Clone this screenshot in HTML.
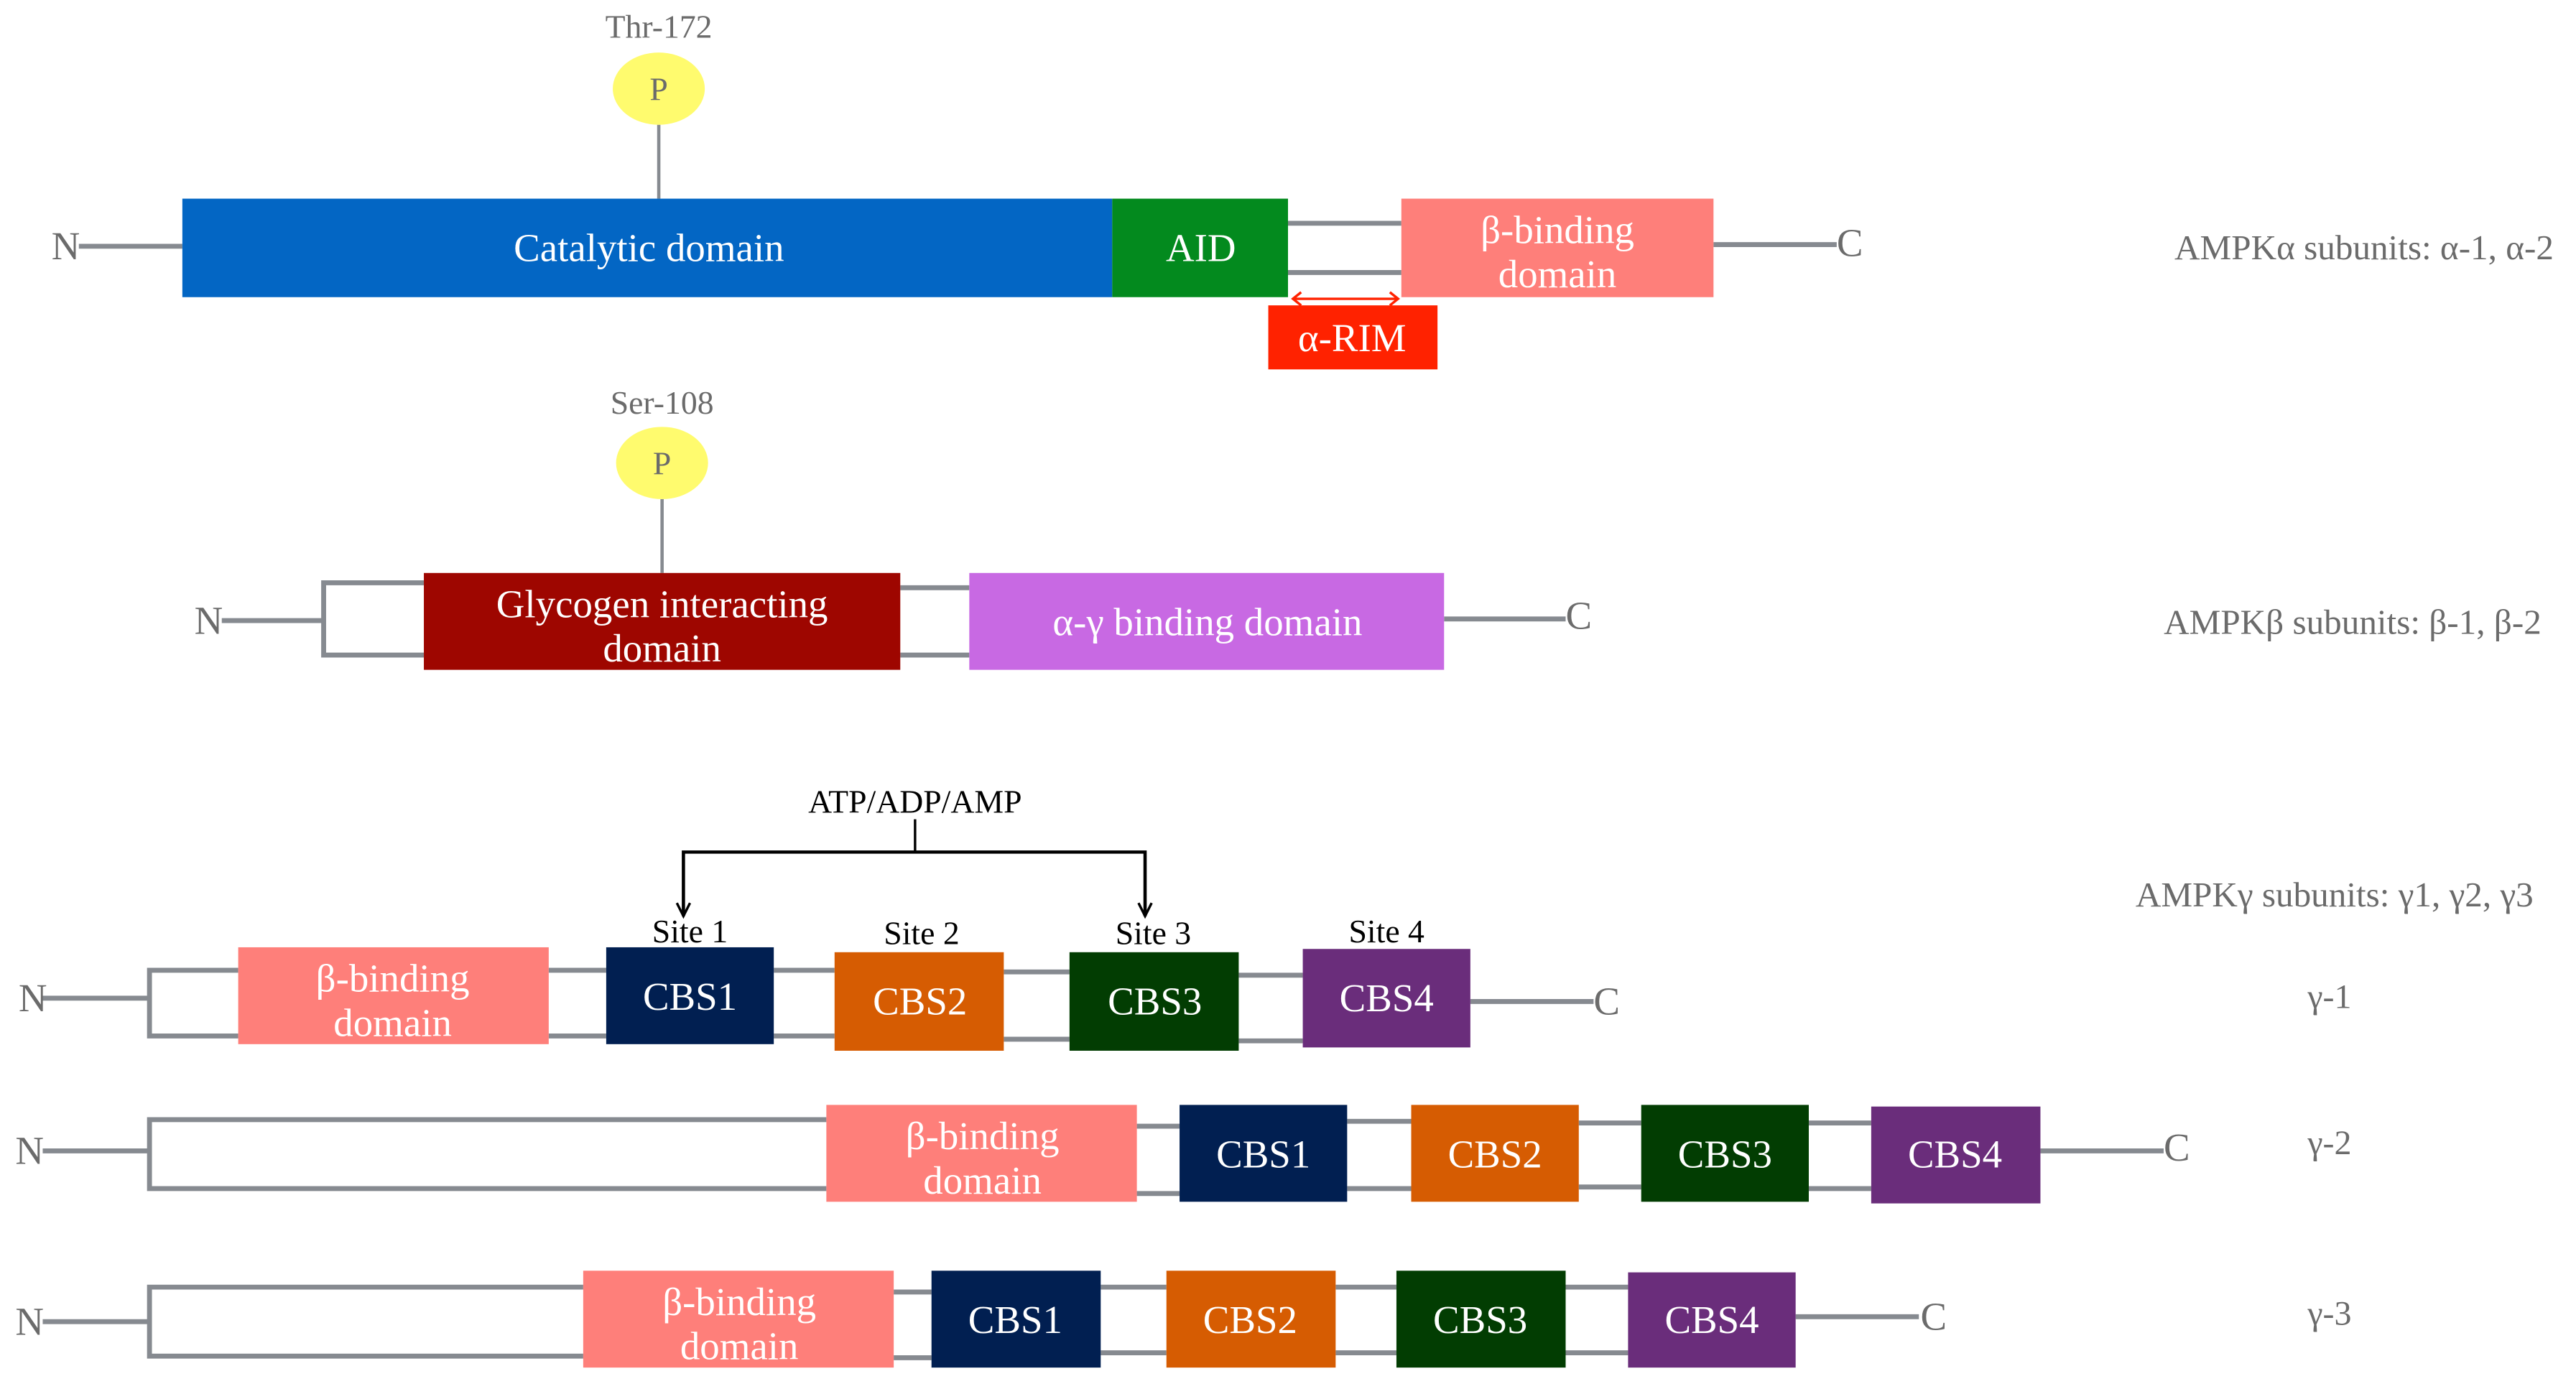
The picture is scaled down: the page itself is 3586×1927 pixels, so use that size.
<!DOCTYPE html>
<html><head><meta charset="utf-8"><style>html,body{margin:0;padding:0;background:#fff}svg{display:block}</style></head>
<body>
<svg width="3586" height="1927" viewBox="0 0 1568 843" preserveAspectRatio="none" xmlns="http://www.w3.org/2000/svg" font-family="Liberation Serif, serif">
<g stroke="#868A90" stroke-width="3" fill="none">
<line x1="48" y1="150" x2="111" y2="150"/>
<line x1="784" y1="136" x2="853" y2="136"/>
<line x1="784" y1="166" x2="853" y2="166"/>
<line x1="1043" y1="149" x2="1118" y2="149"/>
<line x1="401" y1="76" x2="401" y2="121" stroke-width="2"/>
<line x1="135" y1="378" x2="197" y2="378"/>
<polyline points="258,355 197,355 197,399 258,399"/>
<line x1="548" y1="358" x2="590" y2="358"/>
<line x1="548" y1="399" x2="590" y2="399"/>
<line x1="879" y1="377" x2="953" y2="377"/>
<line x1="403" y1="304" x2="403" y2="349" stroke-width="2"/>
<line x1="26" y1="608" x2="91" y2="608"/>
<polyline points="145,591 91,591 91,631 145,631"/>
<line x1="334" y1="591" x2="369" y2="591"/><line x1="334" y1="631" x2="369" y2="631"/>
<line x1="471" y1="591" x2="508" y2="591"/><line x1="471" y1="631" x2="508" y2="631"/>
<line x1="611" y1="592" x2="651" y2="592"/><line x1="611" y1="633" x2="651" y2="633"/>
<line x1="754" y1="594" x2="793" y2="594"/><line x1="754" y1="634" x2="793" y2="634"/>
<line x1="895" y1="610" x2="970" y2="610"/>
<line x1="26" y1="701" x2="91" y2="701"/>
<polyline points="503,682 91,682 91,724 503,724"/>
<line x1="692" y1="686" x2="718" y2="686"/><line x1="692" y1="727" x2="718" y2="727"/>
<line x1="820" y1="683" x2="859" y2="683"/><line x1="820" y1="724" x2="859" y2="724"/>
<line x1="961" y1="684" x2="999" y2="684"/><line x1="961" y1="723" x2="999" y2="723"/>
<line x1="1101" y1="684" x2="1139" y2="684"/><line x1="1101" y1="724" x2="1139" y2="724"/>
<line x1="1242" y1="701" x2="1317" y2="701"/>
<line x1="26" y1="805" x2="91" y2="805"/>
<polyline points="355,784 91,784 91,826 355,826"/>
<line x1="544" y1="787" x2="567" y2="787"/><line x1="544" y1="827" x2="567" y2="827"/>
<line x1="670" y1="784" x2="710" y2="784"/><line x1="670" y1="824" x2="710" y2="824"/>
<line x1="813" y1="784" x2="850" y2="784"/><line x1="813" y1="824" x2="850" y2="824"/>
<line x1="953" y1="784" x2="991" y2="784"/><line x1="953" y1="824" x2="991" y2="824"/>
<line x1="1093" y1="802" x2="1168" y2="802"/>
</g>
<rect x="111" y="121" width="566" height="60" fill="#0366C4"/>
<rect x="677" y="121" width="107" height="60" fill="#038A1E"/>
<rect x="853" y="121" width="190" height="60" fill="#FE7F7A"/>
<rect x="772" y="186" width="103" height="39" fill="#FF2200"/>
<line x1="788" y1="182" x2="850" y2="182" stroke="#FF2200" stroke-width="1.5"/>
<path d="M792,178 L787,182 L792,186 M846,178 L851,182 L846,186" stroke="#FF2200" stroke-width="1.5" fill="none"/>
<ellipse cx="401" cy="54" rx="28" ry="22" fill="#FFFB6E"/>
<ellipse cx="403" cy="282" rx="28" ry="22" fill="#FFFB6E"/>
<rect x="258" y="349" width="290" height="59" fill="#9E0600"/>
<rect x="590" y="349" width="289" height="59" fill="#C869E3"/>
<rect x="145" y="577" width="189" height="59" fill="#FE7F7A"/>
<rect x="369" y="577" width="102" height="59" fill="#011F51"/>
<rect x="508" y="580" width="103" height="60" fill="#D65C02"/>
<rect x="651" y="580" width="103" height="60" fill="#023D02"/>
<rect x="793" y="578" width="102" height="60" fill="#6A2D7B"/>
<rect x="503" y="673" width="189" height="59" fill="#FE7F7A"/>
<rect x="718" y="673" width="102" height="59" fill="#011F51"/>
<rect x="859" y="673" width="102" height="59" fill="#D65C02"/>
<rect x="999" y="673" width="102" height="59" fill="#023D02"/>
<rect x="1139" y="674" width="103" height="59" fill="#6A2D7B"/>
<rect x="355" y="774" width="189" height="59" fill="#FE7F7A"/>
<rect x="567" y="774" width="103" height="59" fill="#011F51"/>
<rect x="710" y="774" width="103" height="59" fill="#D65C02"/>
<rect x="850" y="774" width="103" height="59" fill="#023D02"/>
<rect x="991" y="775" width="102" height="58" fill="#6A2D7B"/>
<g stroke="#000" fill="none">
<line x1="557" y1="499" x2="557" y2="519" stroke-width="1.5"/>
<polyline points="416,558 416,519 697,519 697,558" stroke-width="2"/>
<path d="M412,550 L416,558 L420,550 M693,550 L697,558 L701,550" stroke-width="1.5"/>
</g>
<g fill="#6b6b6b" font-size="20" text-anchor="middle">
<text x="401" y="23">Thr-172</text>
<text x="401" y="61">P</text>
<text x="403" y="252">Ser-108</text>
<text x="403" y="289">P</text>
<text x="40" y="158" font-size="24">N</text>
<text x="1126" y="156" font-size="24">C</text>
<text x="127" y="386" font-size="24">N</text>
<text x="961" y="383" font-size="24">C</text>
<text x="20" y="616" font-size="24">N</text>
<text x="978" y="618" font-size="24">C</text>
<text x="18" y="709" font-size="24">N</text>
<text x="1325" y="707" font-size="24">C</text>
<text x="18" y="813" font-size="24">N</text>
<text x="1177" y="810" font-size="24">C</text>
<text x="1439" y="158" font-size="21.5">AMPKα subunits: α-1, α-2</text>
<text x="1432" y="386" font-size="21.5">AMPKβ subunits: β-1, β-2</text>
<text x="1421" y="552" font-size="21.5">AMPKγ subunits: γ1, γ2, γ3</text>
<text x="1418" y="614" font-size="21">γ-1</text>
<text x="1418" y="703" font-size="21">γ-2</text>
<text x="1418" y="807" font-size="21">γ-3</text>
</g>
<g fill="#000" font-size="20" text-anchor="middle">
<text x="557" y="495">ATP/ADP/AMP</text>
<text x="420" y="574">Site 1</text>
<text x="561" y="575">Site 2</text>
<text x="702" y="575">Site 3</text>
<text x="844" y="574">Site 4</text>
</g>
<g fill="#fff" font-size="24" text-anchor="middle">
<text x="395" y="159">Catalytic domain</text>
<text x="731" y="159">AID</text>
<text x="948" y="148">β-binding</text>
<text x="948" y="175">domain</text>
<text x="823" y="214">α-RIM</text>
<text x="403" y="376">Glycogen interacting</text>
<text x="403" y="403">domain</text>
<text x="735" y="387">α-γ binding domain</text>
<text x="239" y="604">β-binding</text>
<text x="239" y="631">domain</text>
<text x="420" y="615">CBS1</text>
<text x="560" y="618">CBS2</text>
<text x="703" y="618">CBS3</text>
<text x="844" y="616">CBS4</text>
<text x="598" y="700">β-binding</text>
<text x="598" y="727">domain</text>
<text x="769" y="711">CBS1</text>
<text x="910" y="711">CBS2</text>
<text x="1050" y="711">CBS3</text>
<text x="1190" y="711">CBS4</text>
<text x="450" y="801">β-binding</text>
<text x="450" y="828">domain</text>
<text x="618" y="812">CBS1</text>
<text x="761" y="812">CBS2</text>
<text x="901" y="812">CBS3</text>
<text x="1042" y="812">CBS4</text>
</g>
</svg>
</body></html>
